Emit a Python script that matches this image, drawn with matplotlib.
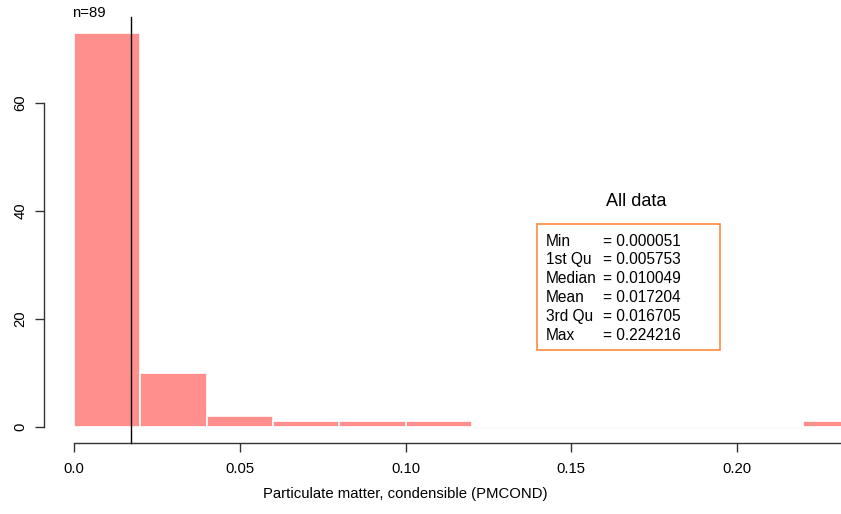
import numpy as np
import matplotlib.pyplot as plt
from matplotlib.patches import Rectangle

plt.rcParams['font.family'] = ['Liberation Sans', 'DejaVu Sans']

# histogram bins and counts
bin_edges = [0.0, 0.02, 0.04, 0.06, 0.08, 0.10, 0.12, 0.14, 0.16, 0.18, 0.20, 0.22, 0.24]
counts = [73, 10, 2, 1, 1, 1, 0, 0, 0, 0, 0, 1]
n_obs = 89
mean_val = 0.017204

stat_names = ["Min", "1st Qu", "Median", "Mean", "3rd Qu", "Max"]
stat_values = ["0.000051", "0.005753", "0.010049", "0.017204", "0.016705", "0.224216"]

x_ticks = [0.0, 0.05, 0.10, 0.15, 0.20]
x_ticklabels = ["0.0", "0.05", "0.10", "0.15", "0.20"]
y_ticks = [0, 20, 40, 60]

W, H = 841, 514
fs = 10.7
fig = plt.figure(figsize=(W / 100, H / 100), dpi=100)
ax = fig.add_axes([0, 0, 1, 1])

# pixel <-> data mapping
x0px, xs = 74, 3315.3
y0px, ys = 426.7, 5.395
ax.set_xlim(-x0px / xs, (W - x0px) / xs)
ax.set_ylim(-(H - y0px) / ys, y0px / ys)

lefts = np.array(bin_edges[:-1])
widths = np.diff(bin_edges)
ax.bar(lefts, counts, width=widths, align='edge', color='#ff8f8c',
       edgecolor='white', linewidth=1.2, zorder=2)
# faint baseline for empty bins
for l, w, c in zip(lefts, widths, counts):
    if c == 0:
        ax.plot([l, l + w], [0, 0], color='#f6e4e4', lw=1, zorder=1)

# mean line
ax.plot([mean_val, mean_val], [(y0px - 443) / ys, (y0px - 17) / ys], color='black', lw=1, zorder=3)
ax.text(-0.0005, (y0px - 13) / ys, "n=" + str(n_obs), fontsize=fs, ha='left', va='center')

# axes, R style
for s in ['top', 'right']:
    ax.spines[s].set_visible(False)
ax.spines['left'].set_position(('data', (44 - x0px) / xs))
ax.spines['left'].set_bounds(0, 60)
ax.spines['bottom'].set_position(('data', (y0px - 443) / ys))
ax.spines['bottom'].set_bounds(0, 0.25)
for s in ['left', 'bottom']:
    ax.spines[s].set_color('#333333')
    ax.spines[s].set_linewidth(1)

ax.set_xticks(x_ticks)
ax.set_xticklabels(x_ticklabels)
ax.set_yticks(y_ticks)
ax.set_yticklabels([str(v) for v in y_ticks], rotation=90, va='center')
ax.tick_params(axis='both', direction='out', length=6.5, width=1, color='#333333', labelsize=fs, pad=5.5)
ax.tick_params(axis='x', pad=7)

ax.text(0.1, (y0px - 494) / ys, "Particulate matter, condensible (PMCOND)", fontsize=fs,
        ha='center', va='center')

# summary box
ax.text((636 - x0px) / xs, (y0px - 201) / ys, "All data", fontsize=13, ha='center', va='center')
bx0, bx1 = (537 - x0px) / xs, (720 - x0px) / xs
by0, by1 = (y0px - 350) / ys, (y0px - 224) / ys
ax.add_patch(Rectangle((bx0, by0), bx1 - bx0, by1 - by0, fill=False, edgecolor='#ff8a3d', lw=1.2, zorder=4))
renderer = fig.canvas.get_renderer()
bfs = 11.2
for i, (nm, v) in enumerate(zip(stat_names, stat_values)):
    yy = (y0px - (241 + i * 18.8)) / ys
    t = ax.text((546 - x0px) / xs, yy, nm, fontsize=bfs, ha='left', va='center')
    name_end = t.get_window_extent(renderer).x1
    eq_px = max(603, name_end + 4)
    ax.text((eq_px - x0px) / xs, yy, "= " + v, fontsize=bfs, ha='left', va='center')

fig.savefig("out.png", dpi=100)
